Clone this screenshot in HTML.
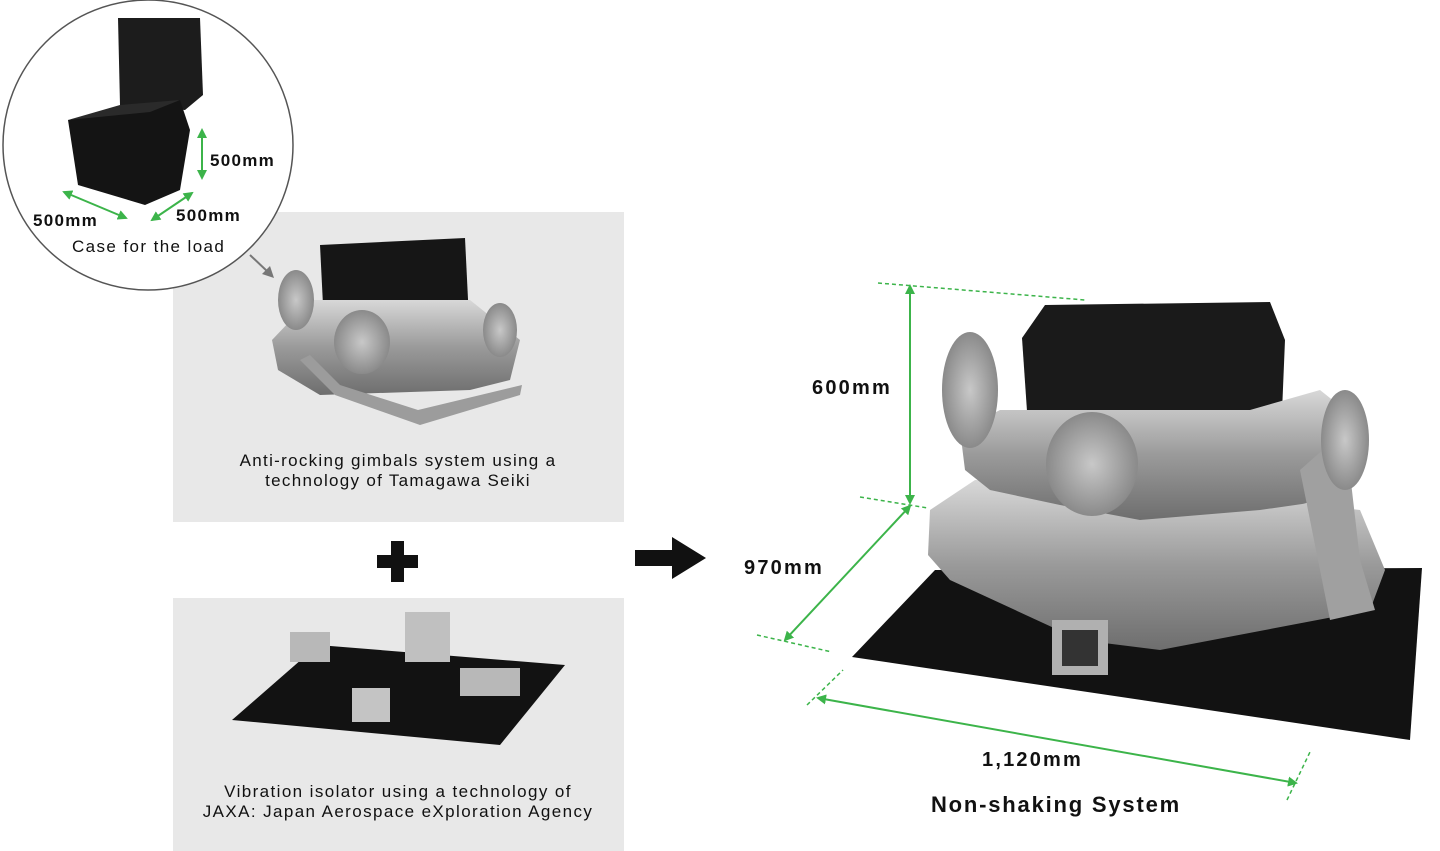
<!DOCTYPE html>
<html><head><meta charset="utf-8"><style>
html,body{margin:0;padding:0;background:#fff;}
svg{display:block;}
text{font-family:"Liberation Sans",sans-serif;fill:#111;}
</style></head><body>
<svg width="1440" height="851" viewBox="0 0 1440 851" xmlns="http://www.w3.org/2000/svg">
<defs>
<marker id="ag" viewBox="0 0 10 10" refX="8" refY="5" markerWidth="5" markerHeight="5" orient="auto-start-reverse"><path d="M0,0 L10,5 L0,10 z" fill="#3cb44a"/></marker>
<linearGradient id="sil" x1="0" y1="0" x2="0" y2="1"><stop offset="0" stop-color="#d8d8d8"/><stop offset="0.5" stop-color="#9a9a9a"/><stop offset="1" stop-color="#6e6e6e"/></linearGradient>
<radialGradient id="disc"><stop offset="0" stop-color="#c8c8c8"/><stop offset="1" stop-color="#8a8a8a"/></radialGradient>
</defs>
<rect x="173" y="212" width="451" height="310" fill="#e8e8e8"/>
<rect x="173" y="598" width="451" height="253" fill="#e8e8e8"/>
<circle cx="148" cy="145" r="145" fill="#fff" stroke="#555" stroke-width="1.5"/>
<polygon points="118,18 200,18 203,95 185,110 120,105" fill="#1c1c1c"/>
<polygon points="68,120 180,100 190,130 180,190 145,205 78,185" fill="#141414"/>
<polygon points="68,120 150,112 180,100 120,105" fill="#2a2a2a"/>
<line x1="202" y1="130" x2="202" y2="178" stroke="#3cb44a" stroke-width="2" marker-start="url(#ag)" marker-end="url(#ag)"/>
<line x1="64" y1="192" x2="126" y2="218" stroke="#3cb44a" stroke-width="2" marker-start="url(#ag)" marker-end="url(#ag)"/>
<line x1="152" y1="220" x2="192" y2="193" stroke="#3cb44a" stroke-width="2" marker-start="url(#ag)" marker-end="url(#ag)"/>
<text x="210" y="166" font-size="17" font-weight="bold" letter-spacing="1.3">500mm</text>
<text x="33" y="226" font-size="17" font-weight="bold" letter-spacing="1.3">500mm</text>
<text x="176" y="221" font-size="17" font-weight="bold" letter-spacing="1.3">500mm</text>
<text x="72" y="252" font-size="17" letter-spacing="1.4">Case for the load</text>
<line x1="250" y1="255" x2="268" y2="272" stroke="#777" stroke-width="2"/>
<polygon points="274,278 262,274 270,266" fill="#777"/>
<polygon points="320,245 465,238 470,340 325,345" fill="#161616"/>
<polygon points="272,340 310,300 470,300 520,340 510,380 470,390 320,395 278,370" fill="url(#sil)"/>
<polygon points="300,360 335,395 420,425 520,395 522,385 418,410 340,385 310,355" fill="#9c9c9c"/>
<ellipse cx="296" cy="300" rx="18" ry="30" fill="url(#disc)"/>
<ellipse cx="500" cy="330" rx="17" ry="27" fill="url(#disc)"/>
<ellipse cx="362" cy="342" rx="28" ry="32" fill="url(#disc)"/>
<text x="398" y="466" font-size="17" letter-spacing="1.3" text-anchor="middle">Anti-rocking gimbals system using a</text>
<text x="398" y="486" font-size="17" letter-spacing="1.3" text-anchor="middle">technology of Tamagawa Seiki</text>
<rect x="377" y="555" width="41" height="13" fill="#111"/>
<rect x="391" y="541" width="13" height="41" fill="#111"/>
<polygon points="232,720 318,645 565,665 500,745" fill="#121212"/>
<rect x="290" y="632" width="40" height="30" fill="#b8b8b8"/>
<rect x="405" y="612" width="45" height="50" fill="#c0c0c0"/>
<rect x="460" y="668" width="60" height="28" fill="#b8b8b8"/>
<rect x="352" y="688" width="38" height="34" fill="#c4c4c4"/>
<text x="398" y="797" font-size="17" letter-spacing="1.4" text-anchor="middle">Vibration isolator using a technology of</text>
<text x="398" y="817" font-size="17" letter-spacing="1.4" text-anchor="middle">JAXA: Japan Aerospace eXploration Agency</text>
<polygon points="635,550 672,550 672,537 706,558 672,579 672,566 635,566" fill="#111"/>
<polygon points="852,657 935,570 1422,568 1410,740" fill="#121212"/>
<polygon points="1022,338 1045,305 1270,302 1285,340 1280,460 1030,455" fill="#1a1a1a"/>
<polygon points="1030,460 1260,460 1230,590 1060,590" fill="#151515"/>
<polygon points="930,510 975,480 1180,490 1360,510 1385,570 1370,610 1160,650 1080,640 950,580 928,555" fill="url(#sil)"/>
<polygon points="960,430 1000,410 1250,410 1320,390 1345,410 1330,500 1260,510 1140,520 1060,505 990,490 965,470" fill="url(#sil)"/>
<polygon points="1300,470 1345,430 1360,560 1375,610 1330,620" fill="#a0a0a0"/>
<ellipse cx="970" cy="390" rx="28" ry="58" fill="url(#disc)"/>
<ellipse cx="1345" cy="440" rx="24" ry="50" fill="url(#disc)"/>
<ellipse cx="1092" cy="464" rx="46" ry="52" fill="url(#disc)"/>
<rect x="1052" y="620" width="56" height="55" fill="#b0b0b0"/>
<rect x="1062" y="630" width="36" height="36" fill="#333"/>
<g stroke="#3cb44a" stroke-width="1.5" fill="none">
<line x1="878" y1="283" x2="1085" y2="300" stroke-dasharray="4,3"/>
<line x1="860" y1="497" x2="928" y2="508" stroke-dasharray="4,3"/>
<line x1="757" y1="635" x2="832" y2="652" stroke-dasharray="4,3"/>
<line x1="807" y1="705" x2="843" y2="670" stroke-dasharray="4,3"/>
<line x1="1287" y1="800" x2="1310" y2="752" stroke-dasharray="4,3"/>
<line x1="910" y1="286" x2="910" y2="503" stroke-width="2" marker-start="url(#ag)" marker-end="url(#ag)"/>
<line x1="910" y1="506" x2="785" y2="640" stroke-width="2" marker-start="url(#ag)" marker-end="url(#ag)"/>
<line x1="818" y1="698" x2="1296" y2="783" stroke-width="2" marker-start="url(#ag)" marker-end="url(#ag)"/>
</g>
<text x="812" y="394" font-size="20" font-weight="bold" letter-spacing="2.2">600mm</text>
<text x="744" y="574" font-size="20" font-weight="bold" letter-spacing="2.2">970mm</text>
<text x="982" y="766" font-size="20" font-weight="bold" letter-spacing="2.2">1,120mm</text>
<text x="1056" y="812" font-size="22" font-weight="bold" letter-spacing="1.8" text-anchor="middle">Non-shaking System</text>
</svg>
</body></html>
